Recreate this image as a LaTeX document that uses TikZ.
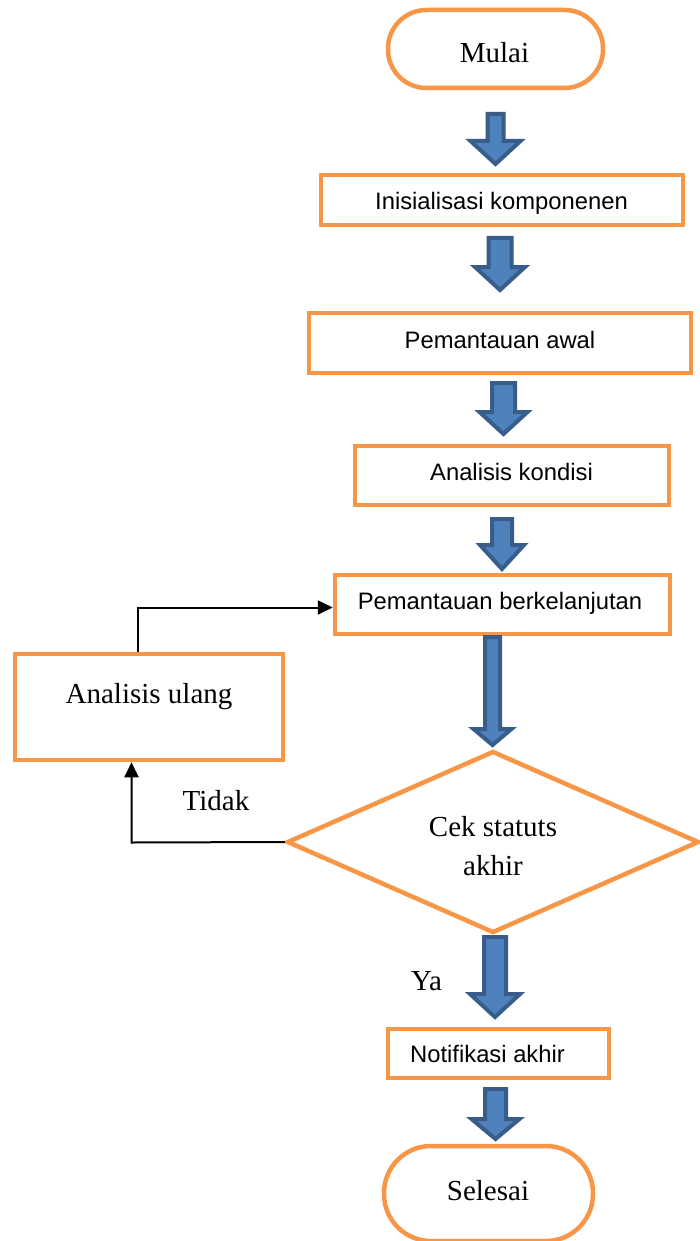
\documentclass[tikz,border=0pt]{standalone}
\usepackage{fontspec}
\setmainfont{Liberation Serif}
\newfontfamily\arialfont{Liberation Sans}
\usetikzlibrary{shapes.geometric,arrows.meta}
\definecolor{boxorange}{HTML}{F79646}
\definecolor{arrowfill}{HTML}{4F81BD}
\definecolor{arrowline}{HTML}{385D8A}
% block arrow: center x, top y, head y, tip y, shaft half width, head half width
\newcommand\blockarrow[6]{%
  \draw[blockarr] ({#1-#5},#2) -- ({#1+#5},#2) -- ({#1+#5},#3) -- ({#1+#6},#3)
    -- (#1,#4) -- ({#1-#6},#3) -- ({#1-#5},#3) -- cycle;}
\begin{document}
\begin{tikzpicture}[x=1pt,y=-1pt,
  box/.style={draw=boxorange, line width=4.5pt, fill=white, inner sep=0pt},
  term/.style={box, rounded corners=#1},
  serif/.style={font=\fontsize{29}{34}\selectfont, inner sep=0pt, anchor=base},
  sans/.style={font=\arialfont\fontsize{23.8}{28}\selectfont, inner sep=0pt, anchor=base},
  blockarr/.style={draw=arrowline, fill=arrowfill, line width=4pt, line join=miter},
  conn/.style={draw=black, line width=2pt, -{Triangle[length=15pt,width=14pt]}},
]
\fill[white] (0,0) rectangle (699,1241);
\useasboundingbox (0,0) rectangle (699,1241);

% boxes
\node[term=38.5pt, minimum width=215pt, minimum height=78pt] (mulai) at (495.5,49) {};
\node[box, minimum width=362pt, minimum height=50pt] (init) at (502,200) {};
\node[box, minimum width=382pt, minimum height=60pt] (awal) at (500,343) {};
\node[box, minimum width=314pt, minimum height=59pt] (kondisi) at (512,475.5) {};
\node[box, minimum width=335pt, minimum height=59pt] (lanjut) at (502.5,604.5) {};
\node[box, minimum width=268pt, minimum height=106pt] (ulang) at (149,707) {};
\node[box, shape=diamond, minimum width=412pt, minimum height=182pt] (cek) at (493,842) {};
\node[box, minimum width=221pt, minimum height=49pt] (notif) at (498.5,1053.5) {};
\node[term=47pt, minimum width=209pt, minimum height=95pt] (selesai) at (488.5,1193.5) {};

% block arrows
\blockarrow{495.5}{114}{141}{164}{8}{25}
\blockarrow{500}{238}{267}{290}{11.5}{25}
\blockarrow{503.5}{383}{412}{434}{11.5}{24}
\blockarrow{502}{519}{545}{569}{10}{22}
\blockarrow{492.5}{637}{729}{745}{7.5}{19}
\blockarrow{495}{937}{994}{1017}{11}{25}
\blockarrow{495.5}{1089}{1119}{1139}{10.5}{24}

% texts
\node[serif] (tmulai) at (494.5,62.3) {Mulai};
\node[sans] (tinit) at (501.5,209.3) {Inisialisasi komponenen};
\node[sans] (tawal) at (500,348.3) {Pemantauan awal};
\node[sans] (tkondisi) at (511.5,480) {Analisis kondisi};
\node[sans] (tlanjut) at (500,609.3) {Pemantauan berkelanjutan};
\node[serif] (tulang) at (149,703.3) {Analisis ulang};
\node[serif] (tcek1) at (493,836) {Cek statuts};
\node[serif] (tcek2) at (493,875) {akhir};
\node[serif] (ttidak) at (216,810) {Tidak};
\node[serif] (tya) at (426.5,990) {Ya};
\node[sans] (tnotif) at (487.5,1062.7) {Notifikasi akhir};
\node[serif] (tselesai) at (488,1200) {Selesai};

% connectors
\coordinate (j1) at (138,607.5);
\draw[conn] (ulang.north -| j1) -- (j1) -- (j1 -| lanjut.west);
\coordinate (j2) at (131.5,842.5);
\draw[conn] (cek.west) -- (j2) -- (j2 |- ulang.south);
\end{tikzpicture}
\end{document}
